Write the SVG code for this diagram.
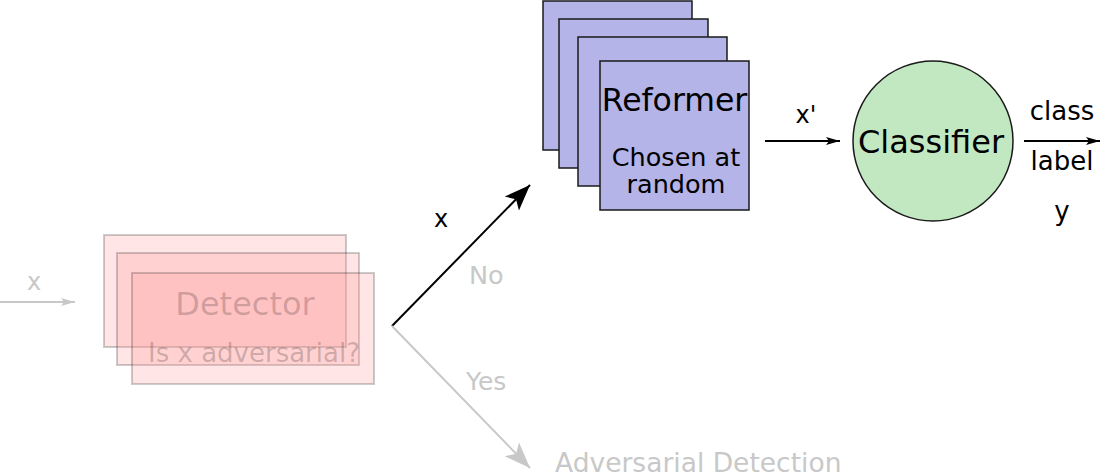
<svg xmlns="http://www.w3.org/2000/svg" width="1101" height="474" viewBox="0 0 1101 474">
<style>
text{font-family:"DejaVu Sans","Liberation Sans",sans-serif;}
.det rect{fill:#ff9999;fill-opacity:0.25;stroke:#000;stroke-opacity:0.2;stroke-width:2;}
.ref rect{fill:#b4b4e8;stroke:#1a1a1a;stroke-width:1.5;}
.gray{fill:#c8c8c8;}
.glin{stroke:#c8c8c8;stroke-width:2;fill:none;}
.blin{stroke:#000;stroke-width:2;fill:none;}
</style>
<defs>
<marker id="bigB" markerUnits="userSpaceOnUse" markerWidth="30" markerHeight="30" refX="26" refY="10" orient="auto" viewBox="0 0 30 20">
<path d="M26,10 L0,0 L6,10 L0,20 Z" fill="#000"/>
</marker>
<marker id="bigG" markerUnits="userSpaceOnUse" markerWidth="30" markerHeight="30" refX="26" refY="10" orient="auto" viewBox="0 0 30 20">
<path d="M26,10 L0,0 L6,10 L0,20 Z" fill="#c8c8c8"/>
</marker>
<marker id="smB" markerUnits="userSpaceOnUse" markerWidth="16" markerHeight="10" refX="14" refY="4" orient="auto" viewBox="0 0 16 8">
<path d="M14,4 L0,0 L3,4 L0,8 Z" fill="#000"/>
</marker>
<marker id="smG" markerUnits="userSpaceOnUse" markerWidth="16" markerHeight="10" refX="14" refY="4" orient="auto" viewBox="0 0 16 8">
<path d="M14,4 L0,0 L3,4 L0,8 Z" fill="#c8c8c8"/>
</marker>
</defs>

<g id="connectors">
<line class="glin" x1="0" y1="302" x2="75" y2="302" marker-end="url(#smG)"/>
<line class="blin" x1="392" y1="326" x2="530" y2="185" marker-end="url(#bigB)"/>
<line class="glin" x1="392" y1="326" x2="530" y2="468" marker-end="url(#bigG)"/>
<line class="blin" x1="765" y1="141" x2="840" y2="141" marker-end="url(#smB)"/>
<line class="blin" x1="1024" y1="141" x2="1100" y2="141" marker-end="url(#smB)"/>
<text class="gray" x="34" y="290" font-size="24" text-anchor="middle">x</text>
<text x="441" y="227" font-size="24" text-anchor="middle">x</text>
<text class="gray" x="469" y="284" font-size="25.5">No</text>
<text class="gray" x="466" y="390" font-size="25">Yes</text>
<text x="806" y="123" font-size="24" text-anchor="middle">x'</text>
<text x="1062" y="120" font-size="26" text-anchor="middle">class</text>
<text x="1062" y="170" font-size="26" text-anchor="middle">label</text>
<text x="1062" y="220" font-size="26" text-anchor="middle">y</text>
</g>

<g id="detector" class="det">
<rect x="104" y="235" width="242" height="112"/>
<rect x="117" y="253" width="242" height="112"/>
<rect x="132" y="273" width="242" height="111"/>
<text x="245" y="315" font-size="32" text-anchor="middle" fill="#000" fill-opacity="0.2">Detector</text>
<text x="254" y="362" font-size="26" text-anchor="middle" fill="#000" fill-opacity="0.2">Is x adversarial?</text>
</g>

<g id="reformer" class="ref">
<rect x="543" y="1" width="149" height="149"/>
<rect x="559" y="19" width="149" height="149"/>
<rect x="578" y="37" width="149" height="149"/>
<rect x="600" y="61" width="149" height="149"/>
<text x="674.5" y="111" font-size="31.5" text-anchor="middle">Reformer</text>
<text x="676" y="166" font-size="25.5" text-anchor="middle">Chosen at</text>
<text x="676" y="193" font-size="25.5" text-anchor="middle">random</text>
</g>

<g id="classifier">
<circle cx="933" cy="141" r="80" fill="#c2e8c2" stroke="#1a1a1a" stroke-width="1.5"/>
<text x="931" y="153" font-size="32" text-anchor="middle">Classifier</text>
</g>

<g id="adversarial-detection">
<text class="gray" x="555" y="472" font-size="26.5">Adversarial Detection</text>
</g>
</svg>
